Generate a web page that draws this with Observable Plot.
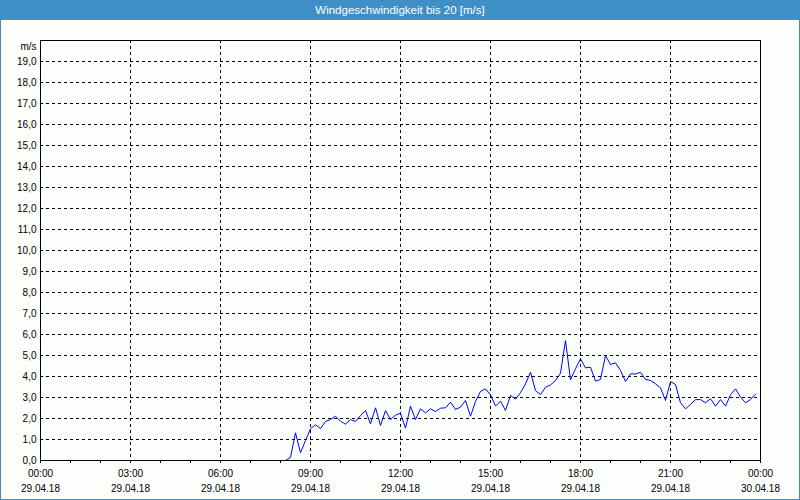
<!DOCTYPE html>
<html>
<head>
<meta charset="utf-8">
<script src="https://cdn.jsdelivr.net/npm/d3@7"></script>
<script src="https://cdn.jsdelivr.net/npm/@observablehq/plot@0.6"></script>
<style>
  html, body { margin: 0; padding: 0; background: #fcfefc; }
  #wrap { width: 800px; height: 500px; box-sizing: border-box; border: 1px solid #3d8fc6; border-top: none; background: #fcfefc; overflow: hidden; }
  #title { height: 20px; line-height: 20px; background: #3d8fc6; color: #ffffff; text-align: center; font-family: "Liberation Sans", sans-serif; font-size: 11.5px; margin: 0 -1px; }
  svg { display: block; }
</style>
</head>
<body>
<div id="wrap">
  <div id="title">Windgeschwindigkeit bis 20 [m/s]</div>
  <div id="chart"></div>
</div>
<script>
const day = "2018-04-29";
const times = [
  "08:00","08:10","08:20","08:30","08:40","08:50",
  "09:00","09:10","09:20","09:30","09:40","09:50",
  "10:00","10:10","10:20","10:30","10:40","10:50",
  "11:00","11:10","11:20","11:30","11:40","11:50",
  "12:00","12:10","12:20","12:30","12:40","12:50",
  "13:00","13:10","13:20","13:30","13:40","13:50",
  "14:00","14:10","14:20","14:30","14:40","14:50",
  "15:00","15:10","15:20","15:30","15:40","15:50",
  "16:00","16:10","16:20","16:30","16:40","16:50",
  "17:00","17:10","17:20","17:30","17:40","17:50",
  "18:00","18:10","18:20","18:30","18:40","18:50",
  "19:00","19:10","19:20","19:30","19:40","19:50",
  "20:00","20:10","20:20","20:30","20:40","20:50",
  "21:00","21:10","21:20","21:30","21:40","21:50",
  "22:00","22:10","22:20","22:30","22:40","22:50",
  "23:00","23:10","23:20","23:30","23:40","23:50"
];
const speeds = [
  0.0, 0.0, 0.15, 1.32, 0.37, 0.95,
  1.51, 1.70, 1.52, 1.86, 1.95, 2.11,
  1.87, 1.73, 1.95, 1.86, 2.14, 2.38,
  1.75, 2.51, 1.67, 2.38, 1.95, 2.16,
  2.25, 1.54, 2.59, 1.95, 2.46, 2.27,
  2.46, 2.33, 2.49, 2.51, 2.78, 2.43,
  2.54, 2.86, 2.11, 2.81, 3.29, 3.41,
  3.13, 2.59, 2.83, 2.38, 3.10, 2.92,
  3.23, 3.65, 4.21, 3.33, 3.14, 3.49,
  3.60, 3.81, 4.16, 5.71, 3.84, 4.37,
  4.84, 4.41, 4.44, 3.78, 3.86, 5.00,
  4.57, 4.65, 4.29, 3.76, 4.13, 4.12,
  4.20, 3.86, 3.81, 3.65, 3.46, 2.86,
  3.76, 3.62, 2.75, 2.46, 2.67, 2.90,
  2.90, 2.75, 2.94, 2.59, 2.90, 2.59,
  3.13, 3.41, 3.02, 2.75, 2.90, 3.17
];
const yTicks = d3.range(0, 20);
const yGrid = d3.range(1, 20);
const unitLabel = "m/s";

const parse = d3.utcParse("%Y-%m-%d %H:%M");
const data = times.map((t, i) => ({time: parse(day + " " + t), speed: speeds[i]}));
const start = parse(day + " 00:00");
const end = parse("2018-04-30 00:00");
const hourTicks = d3.utcHour.range(start, d3.utcHour.offset(end, 1), 1);
const labelTicks = d3.utcHour.range(start, d3.utcHour.offset(end, 1), 3);
const gridTicks = labelTicks.filter(d => +d !== +start && +d !== +end);

const plot = Plot.plot({
  width: 798,
  height: 479,
  marginLeft: 39,
  marginRight: 39,
  marginTop: 20,
  marginBottom: 39,
  style: {fontFamily: "Liberation Sans, sans-serif", fontSize: "10px", background: "transparent", color: "black", overflow: "visible"},
  x: {type: "utc", domain: [start, end]},
  y: {domain: [0, 20]},
  marks: [
    Plot.gridY(yGrid, {stroke: "black", strokeOpacity: 1, strokeDasharray: "3,3"}),
    Plot.gridX(gridTicks, {stroke: "black", strokeOpacity: 1, strokeDasharray: "3,3"}),
    Plot.axisY(yTicks, {tickSize: 0, tickPadding: 4, tickFormat: d => d.toFixed(1).replace(".", ","), label: null, fill: "black"}),
    Plot.axisX(hourTicks, {tickSize: 3, tickFormat: () => "", label: null, stroke: "black"}),
    Plot.axisX(labelTicks, {tickSize: 0, tickPadding: 9, tickFormat: d3.utcFormat("%H:%M"), label: null, fill: "black"}),
    Plot.axisX(labelTicks, {tickSize: 0, tickPadding: 24, tickFormat: d3.utcFormat("%d.%m.%y"), label: null, fill: "black"}),
    Plot.text([unitLabel], {frameAnchor: "top-left", dx: -4, dy: 2, textAnchor: "end", fill: "black"}),
    Plot.line(data, {x: "time", y: "speed", stroke: "#0000ff", strokeWidth: 1}),
    Plot.frame({stroke: "black"})
  ]
});
document.getElementById("chart").appendChild(plot);
</script>
</body>
</html>
